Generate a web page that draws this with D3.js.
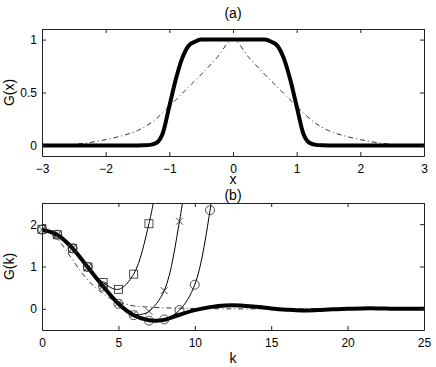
<!DOCTYPE html>
<html>
<head>
<meta charset="utf-8">
<script src="https://d3js.org/d3.v7.min.js"></script>
<style>
    body { margin: 0; background: #fff; }
    text { font-family: "Liberation Sans", Arial, sans-serif; fill: #000; }
    .axis text { font-size: 12px; }
    .axis path, .axis line { stroke: #222; }
    .lab { font-size: 14px; }
    .thick { fill: none; stroke: #000; stroke-width: 4; }
    .thin { fill: none; stroke: #000; stroke-width: 1; }
    .dashdot { fill: none; stroke: #000; stroke-width: 0.8; stroke-dasharray: 5,3,1,3; }
    .mk { fill: none; stroke: #222; stroke-width: 0.8; }
</style>
</head>
<body>
<svg width="436" height="367"></svg>
<script>
// panel (a)
const xA = [-3, -2, -1.5, -1.4, -1.3, -1.2, -1.1, -1.0, -0.9, -0.8, -0.7, -0.6, -0.5, -0.3, 0,
            0.3, 0.5, 0.6, 0.7, 0.8, 0.9, 1.0, 1.1, 1.2, 1.3, 1.4, 1.5, 2, 3];
const gThick = [0, 0, 0, 0.001, 0.005, 0.025, 0.12, 0.37, 0.62, 0.82, 0.94, 0.98, 1, 1, 1,
                1, 1, 0.98, 0.94, 0.82, 0.62, 0.37, 0.12, 0.025, 0.005, 0.001, 0, 0, 0];
const xB = [-3, -2.5, -2, -1.75, -1.5, -1.25, -1, -0.75, -0.5, -0.25, 0,
            0.25, 0.5, 0.75, 1, 1.25, 1.5, 1.75, 2, 2.5, 3];
const gDash = [0, 0.01, 0.055, 0.09, 0.14, 0.23, 0.37, 0.52, 0.67, 0.83, 1,
               0.83, 0.67, 0.52, 0.37, 0.23, 0.14, 0.09, 0.055, 0.01, 0];
const xTicksA = [-3, -2, -1, 0, 1, 2, 3];
const yTicksA = [0, 0.5, 1];

// panel (b)
const kThick = [0, 1, 2, 3, 4, 5, 6, 7, 7.5, 8, 9, 10, 11, 12, 13, 14, 15, 16, 17, 18, 19, 20, 21, 22, 23, 24, 25];
const vThick = [1.87, 1.75, 1.43, 0.98, 0.53, 0.12, -0.15, -0.27, -0.28, -0.26, -0.14, -0.03, 0.04, 0.08, 0.08,
                0.05, 0.01, -0.02, -0.04, -0.03, -0.01, 0, 0.01, 0.01, 0, 0, 0];
const kDash = [0, 0.5, 1, 1.5, 2, 2.5, 3, 3.5, 4, 4.5, 5, 5.5, 6, 7, 8, 9, 10, 12, 15, 20, 25];
const vDash = [1.87, 1.8, 1.66, 1.42, 1.16, 0.9, 0.68, 0.5, 0.36, 0.24, 0.16, 0.11, 0.07, 0.04, 0.025, 0.015, 0.01, 0, 0, 0, 0];
const kSquare = [0, 1, 2, 3, 4, 5, 6, 7, 7.4];
const vSquare = [1.88, 1.75, 1.43, 0.99, 0.62, 0.46, 0.82, 2.01, 2.75];
const kCross = [0, 1, 2, 3, 4, 5, 6, 6.5, 7, 8, 9, 9.3];
const vCross = [1.87, 1.75, 1.43, 0.98, 0.55, 0.14, -0.12, -0.13, -0.06, 0.43, 2.07, 2.8];
const kCircle = [0, 1, 2, 3, 4, 5, 6, 7, 8, 9, 10, 11, 11.2];
const vCircle = [1.87, 1.75, 1.43, 0.99, 0.53, 0.12, -0.15, -0.28, -0.25, -0.03, 0.57, 2.33, 2.9];
const xTicksB = [0, 5, 10, 15, 20, 25];
const yTicksB = [0, 1, 2];

const svg = d3.select('svg');
const W = 382, H = 127;
const fmt = d3.format('~g');

function frame(g, x, y, xt, yt) {
    g.append('g').attr('class', 'axis').attr('transform', `translate(0,${H})`)
        .call(d3.axisBottom(x).tickValues(xt).tickFormat(fmt).tickSizeInner(-4).tickSizeOuter(0).tickPadding(8));
    g.append('g').attr('class', 'axis')
        .call(d3.axisTop(x).tickValues(xt).tickSizeInner(-4).tickSizeOuter(0).tickFormat(''));
    g.append('g').attr('class', 'axis')
        .call(d3.axisLeft(y).tickValues(yt).tickFormat(fmt).tickSizeInner(-4).tickSizeOuter(0).tickPadding(5));
    g.append('g').attr('class', 'axis').attr('transform', `translate(${W},0)`)
        .call(d3.axisRight(y).tickValues(yt).tickSizeInner(-4).tickSizeOuter(0).tickFormat(''));
}

// ---- (a)
const ga = svg.append('g').attr('transform', 'translate(42,29)');
const xa = d3.scaleLinear().domain([-3, 3]).range([0, W]);
const ya = d3.scaleLinear().domain([-0.1, 1.1]).range([H, 0]);

ga.append('path').attr('class', 'dashdot')
    .attr('d', d3.line().x((d, i) => xa(xB[i])).y(d => ya(d)).curve(d3.curveMonotoneX)(gDash));
ga.append('path').attr('class', 'thick')
    .attr('d', d3.line().x((d, i) => xa(xA[i])).y(d => ya(d)).curve(d3.curveMonotoneX)(gThick));
frame(ga, xa, ya, xTicksA, yTicksA);

ga.append('text').attr('class', 'lab').attr('x', W / 2).attr('y', -11).attr('text-anchor', 'middle').text('(a)');
ga.append('text').attr('class', 'lab').attr('x', W / 2).attr('y', H + 28).attr('text-anchor', 'middle').text('x');
ga.append('text').attr('class', 'lab').attr('transform', `translate(-28,${H / 2}) rotate(-90)`)
    .attr('text-anchor', 'middle').text('G(x)');

// ---- (b)
const gb = svg.append('g').attr('transform', 'translate(42,203)');
const xb = d3.scaleLinear().domain([0, 25]).range([0, W]);
const yb = d3.scaleLinear().domain([-0.5, 2.5]).range([H, 0]);

gb.append('clipPath').attr('id', 'clipb').append('rect').attr('width', W).attr('height', H);
const plot = gb.append('g').attr('clip-path', 'url(#clipb)');

const lineK = (ks, vs) => d3.line().x((d, i) => xb(ks[i])).y(d => yb(d)).curve(d3.curveCatmullRom)(vs);

plot.append('path').attr('class', 'dashdot').attr('d', lineK(kDash, vDash));
plot.append('path').attr('class', 'thin').attr('d', lineK(kSquare, vSquare));
plot.append('path').attr('class', 'thin').attr('d', lineK(kCross, vCross));
plot.append('path').attr('class', 'thin').attr('d', lineK(kCircle, vCircle));
plot.append('path').attr('class', 'thick').attr('d', lineK(kThick, vThick));

const pts = (ks, vs) => ks.map((k, i) => ({k, v: vs[i]})).filter(d => Number.isInteger(d.k));

gb.selectAll('.sq').data(pts(kSquare, vSquare)).enter().append('rect')
    .attr('class', 'mk').attr('x', d => xb(d.k) - 4).attr('y', d => yb(d.v) - 4)
    .attr('width', 8).attr('height', 8);
gb.selectAll('.cr').data(pts(kCross, vCross)).enter().append('path')
    .attr('class', 'mk')
    .attr('d', d => `M${xb(d.k) - 3.5},${yb(d.v) - 3.5}l7,7M${xb(d.k) - 3.5},${yb(d.v) + 3.5}l7,-7`);
gb.selectAll('.ci').data(pts(kCircle, vCircle)).enter().append('circle')
    .attr('class', 'mk').attr('cx', d => xb(d.k)).attr('cy', d => yb(d.v)).attr('r', 4.5);

frame(gb, xb, yb, xTicksB, yTicksB);

gb.append('text').attr('class', 'lab').attr('x', W / 2).attr('y', -3).attr('text-anchor', 'middle').text('(b)');
gb.append('text').attr('class', 'lab').attr('x', W / 2).attr('y', H + 33).attr('text-anchor', 'middle').text('k');
gb.append('text').attr('class', 'lab').attr('transform', `translate(-28,${H / 2}) rotate(-90)`)
    .attr('text-anchor', 'middle').text('G(k)');
</script>
</body>
</html>
